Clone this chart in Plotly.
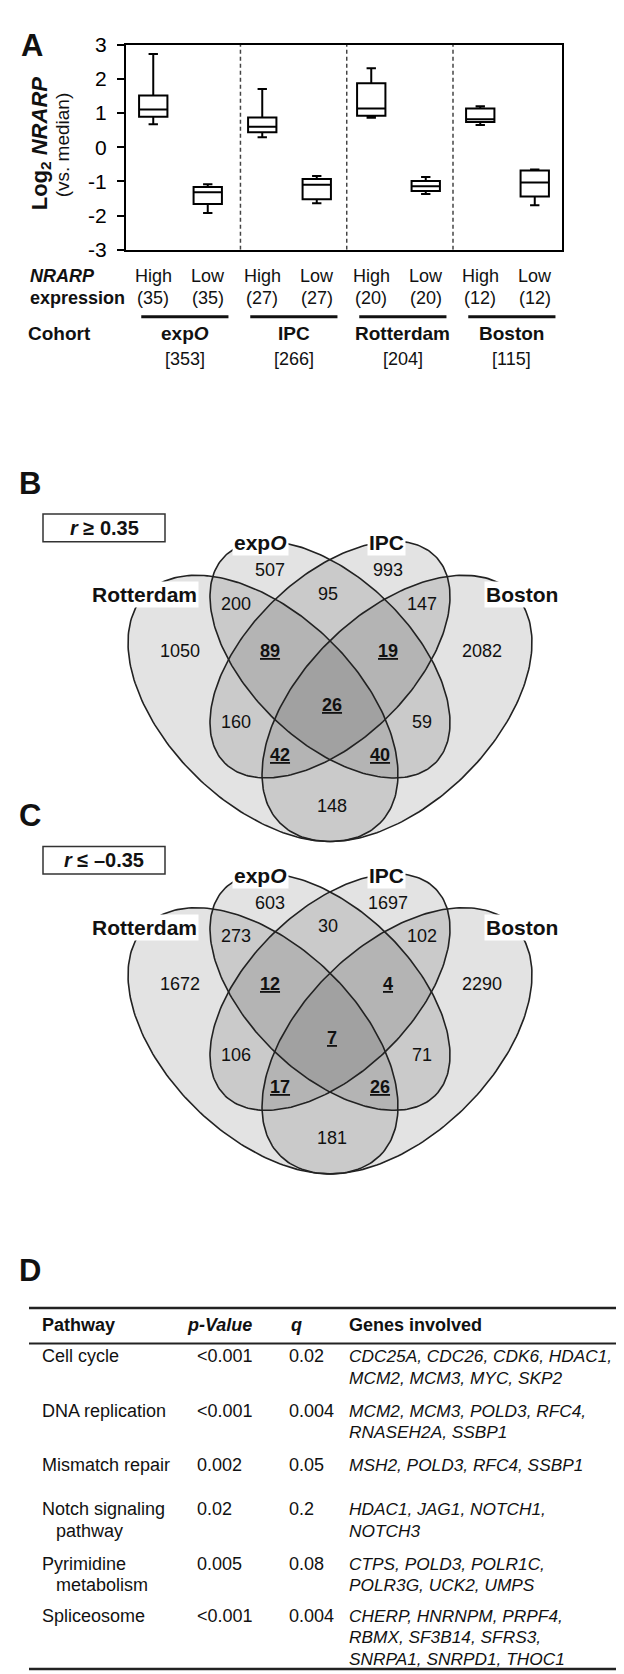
import numpy as np
import plotly.graph_objects as go

W, H = 624, 1674
FONT = "Liberation Sans, Arial, Helvetica, sans-serif"

# ---------------- Panel A data ----------------
box_pos = [0, 1, 2, 3, 4, 5, 6, 7]
box_group = ["High", "Low", "High", "Low", "High", "Low", "High", "Low"]
box_n = [35, 35, 27, 27, 20, 20, 12, 12]
upper_whisker = [2.73, -1.08, 1.70, -0.84, 2.31, -0.87, 1.20, -0.65]
q3_vals = [1.51, -1.16, 0.87, -0.93, 1.87, -0.99, 1.13, -0.68]
median_vals = [1.10, -1.32, 0.60, -1.10, 1.13, -1.14, 0.82, -1.03]
q1_vals = [0.89, -1.66, 0.44, -1.52, 0.92, -1.28, 0.74, -1.44]
lower_whisker = [0.67, -1.92, 0.29, -1.64, 0.86, -1.37, 0.65, -1.70]
cohort_names = ["exp<i>O</i>", "IPC", "Rotterdam", "Boston"]
cohort_n = [353, 266, 204, 115]
y_ticks = [-3, -2, -1, 0, 1, 2, 3]

# ---------------- Panel B / C data ----------------
region_names = ["expO", "IPC", "Rot&expO", "expO&IPC", "IPC&Bos", "Rot", "Rot&expO&IPC",
                "expO&IPC&Bos", "Bos", "all", "Rot&IPC", "expO&Bos", "Rot&IPC&Bos",
                "Rot&expO&Bos", "Rot&Bos"]
counts_pos = [507, 993, 200, 95, 147, 1050, 89, 19, 2082, 26, 160, 59, 42, 40, 148]
counts_neg = [603, 1697, 273, 30, 102, 1672, 12, 4, 2290, 7, 106, 71, 17, 26, 181]
highlight = [False, False, False, False, False, False, True, True, False, True, False, False, True, True, False]
set_labels = ["Rotterdam", "exp<i>O</i>", "IPC", "Boston"]

# ---------------- Panel D data ----------------
pathways = [["Cell cycle"], ["DNA replication"], ["Mismatch repair"],
            ["Notch signaling", "pathway"], ["Pyrimidine", "metabolism"], ["Spliceosome"]]
p_values = ["&lt;0.001", "&lt;0.001", "0.002", "0.02", "0.005", "&lt;0.001"]
q_values = ["0.02", "0.004", "0.05", "0.2", "0.08", "0.004"]
genes = [["CDC25A, CDC26, CDK6, HDAC1,", "MCM2, MCM3, MYC, SKP2"],
         ["MCM2, MCM3, POLD3, RFC4,", "RNASEH2A, SSBP1"],
         ["MSH2, POLD3, RFC4, SSBP1"],
         ["HDAC1, JAG1, NOTCH1,", "NOTCH3"],
         ["CTPS, POLD3, POLR1C,", "POLR3G, UCK2, UMPS"],
         ["CHERP, HNRNPM, PRPF4,", "RBMX, SF3B14, SFRS3,", "SNRPA1, SNRPD1, THOC1"]]

fig = go.Figure()
annotations = []
shapes = []


def ann(x, y, text, size=18, xanchor="center", xref="x2", yref="y2", bg=None, angle=0,
        color="#111111"):
    d = dict(x=x, y=y, text=text, xref=xref, yref=yref, showarrow=False,
             xanchor=xanchor, yanchor="middle", textangle=angle,
             font=dict(family=FONT, size=size, color=color))
    if bg:
        d["bgcolor"] = bg
        d["borderpad"] = 1
    annotations.append(d)


# ---------------- Panel A ----------------
fig.add_trace(go.Box(x=box_pos, q1=q1_vals, median=median_vals, q3=q3_vals,
                     lowerfence=lower_whisker, upperfence=upper_whisker,
                     width=0.52, whiskerwidth=0.33, fillcolor="white",
                     line=dict(color="black", width=2), boxpoints=False,
                     hoverinfo="skip", showlegend=False, xaxis="x", yaxis="y"))

for xs in [1.6, 3.55, 5.5]:
    shapes.append(dict(type="line", xref="x", yref="y", x0=xs, x1=xs, y0=-3, y1=3,
                       line=dict(color="#444", width=1.5, dash="4px,3px")))

ann(24, 26, "<b>A</b>", size=31)
ann(33, 125, "<b>Log<sub>2</sub> <i>NRARP</i></b>", size=22, angle=-90)
ann(54, 127, "(vs. median)", size=19, angle=-90)

ann(20, 260, "<b><i>NRARP</i></b>", size=18, xanchor="left")
ann(20, 282, "<b>expression</b>", size=18, xanchor="left")
ann(18, 318, "<b>Cohort</b>", size=19, xanchor="left")
for i, p in enumerate(box_pos):
    ann(p, 260, box_group[i], size=18, xref="x")
    ann(p, 282, "(%d)" % box_n[i], size=18, xref="x")
for k in range(4):
    shapes.append(dict(type="line", xref="x", yref="y2", x0=2 * k - 0.22, x1=2 * k + 1.38,
                       y0=301, y1=301, line=dict(color="#111", width=3)))
    ann(2 * k + 0.58, 318, "<b>%s</b>" % cohort_names[k], size=19, xref="x")
    ann(2 * k + 0.58, 344, "[%d]" % cohort_n[k], size=18, xref="x")

# ---------------- Panels B and C (Venn) ----------------
ellipses = [  # cx, cy, a, b, angle(deg) in pixel space
    (255, 698, 165, 96, 45),
    (322, 648.5, 148.6, 82, 45),
    (322, 648.5, 148.6, 82, 135),
    (389, 698, 165, 96, 135),
]
region_xy = [(262, 558), (380, 558), (228, 592), (320, 582), (414, 592), (172, 640),
             (262, 640), (380, 640), (474, 640), (324, 695), (228, 712), (414, 712),
             (272, 745), (372, 745), (324, 797)]
label_xy = [(136, 583), (252, 530), (378, 530), (514, 583)]

t = np.linspace(0, 2 * np.pi, 240)
for panel, (dy, counts, letter, boxtxt) in enumerate([
        (0, counts_pos, "B", "<b><i>r</i> ≥ 0.35</b>"),
        (337, counts_neg, "C", "<b><i>r</i> ≤ –0.35</b>")]):
    paths = []
    for (cx, cy, a, b, ang) in ellipses:
        th = np.deg2rad(ang)
        ex = cx + a * np.cos(th) * np.cos(t) - b * np.sin(th) * np.sin(t)
        ey = cy + dy + a * np.sin(th) * np.cos(t) + b * np.cos(th) * np.sin(t)
        paths.append((ex, ey))
    for ex, ey in paths:
        fig.add_trace(go.Scatter(x=ex, y=ey, mode="lines", fill="toself",
                                 fillcolor="rgba(40,40,40,0.13)", line=dict(width=0),
                                 hoverinfo="skip", showlegend=False, xaxis="x2", yaxis="y2"))
    for ex, ey in paths:
        fig.add_trace(go.Scatter(x=ex, y=ey, mode="lines",
                                 line=dict(color="#222", width=1.6),
                                 hoverinfo="skip", showlegend=False, xaxis="x2", yaxis="y2"))
    for i, c in enumerate(counts):
        txt = "<b><u>%d</u></b>" % c if highlight[i] else "%d" % c
        ann(region_xy[i][0], region_xy[i][1] + dy, txt, size=18)
    for j, lab in enumerate(set_labels):
        ann(label_xy[j][0], label_xy[j][1] + dy, "<b>%s</b>" % lab, size=21, bg="white")
    ann(22, 470 + dy, "<b>%s</b>" % letter, size=31)
    shapes.append(dict(type="rect", xref="x2", yref="y2", x0=35, x1=157, y0=501 + dy,
                       y1=529 + dy, line=dict(color="#333", width=1.5)))
    ann(96, 515 + dy, boxtxt, size=20)

# ---------------- Panel D (table) ----------------
ann(22, 1268, "<b>D</b>", size=31)
for yy, wdt in [(1306, 2.5), (1342, 2), (1672, 2.5)]:
    shapes.append(dict(type="line", xref="x2", yref="y2", x0=21, x1=W, y0=yy, y1=yy,
                       line=dict(color="#222", width=wdt)))
ann(32, 1323, "<b>Pathway</b>", size=18, xanchor="left")
ann(177, 1323, "<b><i>p-Value</i></b>", size=18, xanchor="left")
ann(281, 1323, "<b><i>q</i></b>", size=18, xanchor="left")
ann(339, 1323, "<b>Genes involved</b>", size=18, xanchor="left")
row_y = [1355, 1410, 1465, 1510, 1565, 1618]
gap = 22
for r in range(len(pathways)):
    for li, line in enumerate(pathways[r]):
        ann(32 if li == 0 else 46, row_y[r] + li * gap, line, size=18, xanchor="left")
    ann(187, row_y[r], p_values[r], size=18, xanchor="left")
    ann(279, row_y[r], q_values[r], size=18, xanchor="left")
    for li, line in enumerate(genes[r]):
        ann(339, row_y[r] + li * gap, "<i>%s</i>" % line, size=17.3, xanchor="left")

fig.update_layout(
    width=W, height=H, margin=dict(l=0, r=0, t=0, b=0),
    paper_bgcolor="white", plot_bgcolor="rgba(0,0,0,0)",
    font=dict(family=FONT, color="#111"),
    showlegend=False,
    xaxis=dict(domain=[118 / W, 554 / W], range=[-0.5, 7.5], showticklabels=False,
               ticks="", showline=True, mirror=True, linecolor="black", linewidth=2,
               showgrid=False, zeroline=False, anchor="y", fixedrange=True),
    yaxis=dict(domain=[1 - 233 / H, 1 - 25 / H], range=[-3, 3], tickvals=y_ticks,
               ticktext=[str(v) for v in y_ticks], ticks="outside", ticklen=7, tickwidth=2,
               tickcolor="black", tickfont=dict(family=FONT, size=21, color="black"),
               showline=True, mirror=True, linecolor="black", linewidth=2,
               showgrid=False, zeroline=False, anchor="x", ticklabelstandoff=6,
               fixedrange=True),
    xaxis2=dict(domain=[0, 1], range=[0, W], visible=False, anchor="y2", fixedrange=True),
    yaxis2=dict(domain=[0, 1], range=[H, 0], visible=False, anchor="x2", fixedrange=True),
    annotations=annotations, shapes=shapes,
)

fig.write_html("out.html")
